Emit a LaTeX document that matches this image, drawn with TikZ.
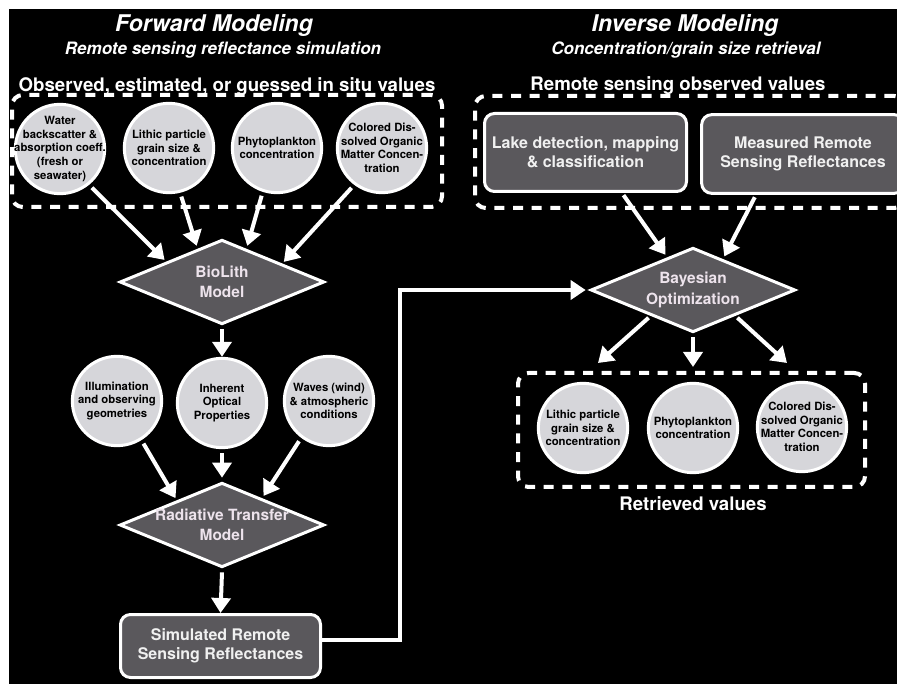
\documentclass[tikz,border=0pt]{standalone}
\usepackage{fontspec}
\setmainfont{TeX Gyre Heros}
\usepackage{xcolor}
\usetikzlibrary{arrows.meta,shapes.geometric}

\definecolor{circgray}{HTML}{D6D6DA}
\definecolor{boxgray}{HTML}{5A585C}
\definecolor{diamtxt}{HTML}{EDE3EC}

\tikzset{
  incirc/.style={circle, draw=white, line width=2.25pt, fill=circgray, minimum size=67pt, inner sep=0pt},
  ctext/.style={align=center, text=black, inner sep=0pt, font=\bfseries\fontsize{8.5}{10.2}\selectfont},
  diam/.style={diamond, draw=white, line width=2.25pt, fill=boxgray, minimum width=155pt, minimum height=65pt, inner sep=0pt, outer sep=3pt},
  dtext/.style={align=center, text=diamtxt, inner sep=0pt, font=\bfseries\fontsize{11.6}{15.4}\selectfont},
  rbox/.style={draw=white, line width=2.25pt, fill=boxgray, rounded corners=7.5pt, inner sep=0pt, align=center, text=white!94!black, font=\bfseries\fontsize{12}{14.2}\selectfont},
  dbox/.style={draw=white, line width=3pt, dash pattern=on 7.5pt off 6.5pt, rounded corners=8pt, inner sep=0pt},
  arr/.style={draw=white, line width=3pt, -{Triangle[width=14.25pt,length=11.25pt]}},
  ttl/.style={anchor=base, text=white, font=\bfseries\itshape\fontsize{17.25}{20}\selectfont},
  sttl/.style={anchor=base, text=white, font=\bfseries\itshape\fontsize{12.8}{15}\selectfont},
  hdr/.style={anchor=base, text=white, font=\bfseries\fontsize{14}{16}\selectfont},
}

\begin{document}
\begin{tikzpicture}[x=0.75pt,y=0.75pt,yscale=-1,xscale=1]
%Background
\useasboundingbox (0,0) rectangle (897,684);
\fill[white] (0,0) rectangle (897,684);
\clip (0,0) rectangle (897,684);
\fill[black] (9,9) rectangle (897,684);

% Text Node
\draw (214,32) node[ttl] (fwd) {Forward Modeling};
% Text Node
\draw (223,55) node[sttl] (fwdsub) {Remote sensing reflectance simulation};
% Text Node
\draw (227,92) node[hdr] (obshdr) {Observed, estimated, or guessed in situ values};
% Text Node
\draw (685,32) node[ttl] (inv) {Inverse Modeling};
% Text Node
\draw (686,55) node[sttl] (invsub) {Concentration/grain size retrieval};
% Text Node
\draw (678,91) node[hdr] (rshdr) {Remote sensing observed values};
% Text Node
\draw (693,510) node[hdr] (retrhdr) {Retrieved values};

%Shape: Dashed Rectangles
\node[dbox, minimum width=322.5pt, minimum height=84pt] (obs) at (227,151) {};
\node[dbox, minimum width=322.5pt, minimum height=84pt] (rsv) at (690,152) {};
\node[dbox, minimum width=260.25pt, minimum height=85.5pt] (retr) at (691.5,430) {};

%Shape: Circles, in situ values
\node[incirc] (wbs) at (60,149) {};
\node[ctext] (wbstxt) at (wbs) {Water\\backscatter \&\\absorption coeff.\\(fresh or\\seawater)};
\node[incirc] (lith) at (169,148) {};
\node[ctext] (lithtxt) at (lith) {Lithic particle\\grain size \&\\concentration};
\node[incirc] (phyto) at (277,148) {};
\node[ctext] (phytotxt) at (phyto) {Phytoplankton\\concentration};
\node[incirc] (cdom) at (382,148) {};
\node[ctext] (cdomtxt) at (cdom) {Colored Dis-\\solved Organic\\Matter Concen-\\tration};

%Shape: Diamond
\node[diam] (bio) at (222,282) {};
\node[dtext] (biotxt) at (bio) {BioLith\\Model};

%Shape: Circles, second row
\node[incirc] (illum) at (117,401) {};
\node[ctext] (illumtxt) at (illum) {Illumination\\and observing\\geometries};
\node[incirc] (iop) at (222,403) {};
\node[ctext] (ioptxt) at (iop) {Inherent\\Optical\\Properties};
\node[incirc] (waves) at (329,401) {};
\node[ctext] (wavestxt) at (waves) {Waves (wind)\\\& atmospheric\\conditions};

%Shape: Diamond
\node[diam] (rt) at (222,525) {};
\node[dtext] (rttxt) at (rt) {Radiative Transfer\\Model};

%Shape: Rounded Rectangle
\node[rbox, minimum width=150pt, minimum height=47.25pt] (sim) at (220.5,646) {Simulated Remote\\Sensing Reflectances};

%Shape: Rounded Rectangles, observed values
\node[rbox, minimum width=151.5pt, minimum height=58.5pt] (lake) at (585.5,152.5) {Lake detection, mapping\\\& classification};
\node[rbox, minimum width=152pt, minimum height=59pt] (meas) at (803,154) {Measured Remote\\Sensing Reflectances};

%Shape: Diamond
\node[diam] (bay) at (693,290) {};
\node[dtext] (baytxt) at (bay) {Bayesian\\Optimization};

%Shape: Circles, retrieved values
\node[incirc] (lithr) at (583,428) {};
\node[ctext] (lithrtxt) at (lithr) {Lithic particle\\grain size \&\\concentration};
\node[incirc] (phytor) at (693,428) {};
\node[ctext] (phytortxt) at (phytor) {Phytoplankton\\concentration};
\node[incirc] (cdomr) at (802,427) {};
\node[ctext] (cdomrtxt) at (cdomr) {Colored Dis-\\solved Organic\\Matter Concen-\\tration};

\coordinate (tipl) at (598,363);
\coordinate (tipm) at (693,367);
\coordinate (tipr) at (787,363);

%Straight Lines
\draw[arr, shorten <=3pt] (wbs.-51) -- (bio.159);
\draw[arr, shorten <=3pt] (lith.-76) -- (bio.125);
\draw[arr, shorten <=3pt] (phyto.-108) -- (bio.55);
\draw[arr, shorten <=3pt] (cdom.-127) -- (bio.18);
\draw[arr] (bio.south) -- (iop.north);
\draw[arr, shorten <=3pt] (illum.-58) -- (rt.150);
\draw[arr, shorten <=3pt] (iop.south) -- (rt.north);
\draw[arr, shorten <=3pt] (waves.-127) -- (rt.35);
\draw[arr] (rt.south) -- (sim.north);
\draw[arr] ([yshift=-4.5pt]sim.east) -- ++(78,0) |- (bay.west);
\draw[arr, shorten <=2pt] (lake.-48) -- (bay.128);
\draw[arr, shorten <=2pt] (meas.-139) -- (bay.47);
\draw[arr] (bay.-148) -- (tipl);
\draw[arr] (bay.south) -- (tipm);
\draw[arr] (bay.-32) -- (tipr);
\end{tikzpicture}
\end{document}
